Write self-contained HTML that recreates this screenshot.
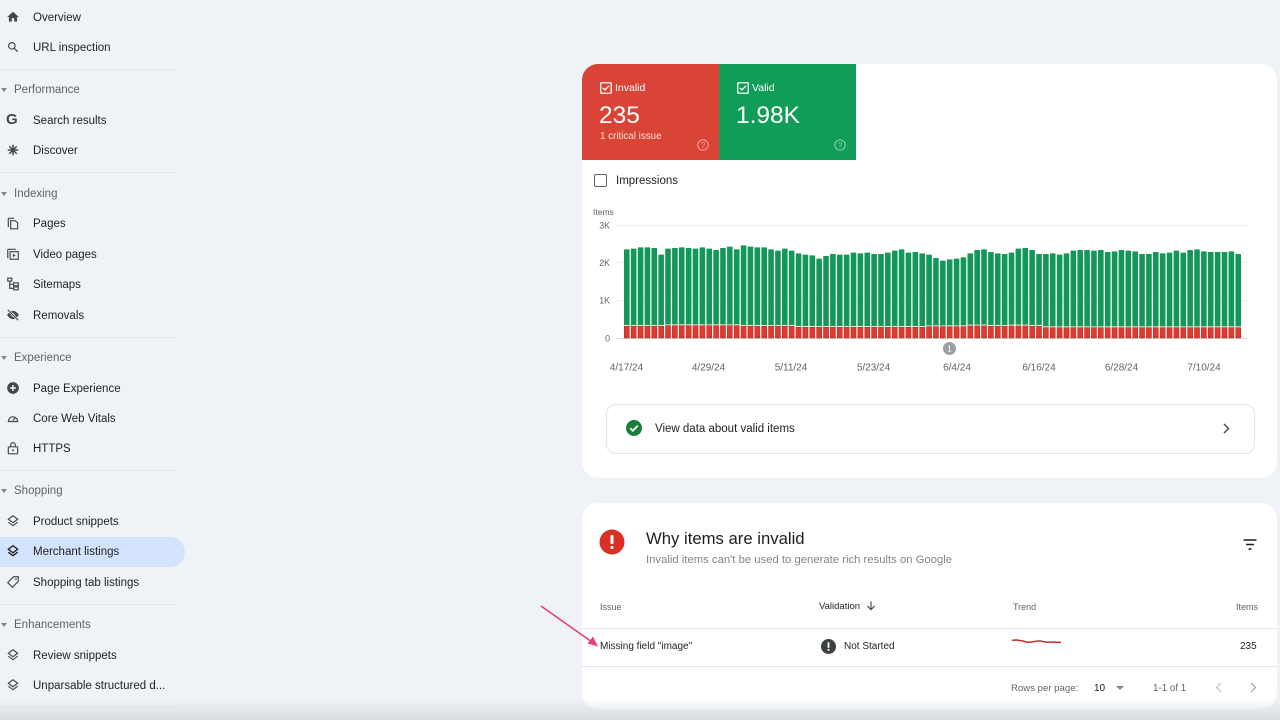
<!DOCTYPE html>
<html><head><meta charset="utf-8">
<style>
*{margin:0;padding:0;box-sizing:border-box}
html,body{width:1280px;height:720px;overflow:hidden}
body{background:#eff3f8;font-family:"Liberation Sans",Arial,sans-serif;position:relative;color:#1f1f1f}
.t{position:absolute;white-space:nowrap;line-height:18px}
.nav{font-size:11.5px;color:#1f1f1f;left:33px}
.sec{font-size:11.5px;color:#5f6368;left:14px}
.tri{position:absolute;left:1px;width:0;height:0;border-left:3px solid transparent;border-right:3px solid transparent;border-top:4px solid #80868b}
.div{position:absolute;left:0;width:176px;height:1px;background:#e1e6ec}
.ic{position:absolute;left:6px;width:14px;height:14px}
.card{position:absolute;background:#fff;border-radius:16px}
</style></head><body>

<!-- sidebar -->
<div style="position:absolute;left:0;top:537px;width:185px;height:30px;background:#d3e3fd;border-radius:0 15px 15px 0"></div>

<svg class="ic" style="top:10px" viewBox="0 0 24 24"><path fill="#474747" d="M10 20v-6h4v6h5v-8h3L12 3 2 12h3v8z"/></svg>
<div class="t nav" style="top:9px">Overview</div>
<svg class="ic" style="top:40px" viewBox="0 0 24 24"><circle cx="10" cy="10" r="5.5" fill="none" stroke="#474747" stroke-width="2"/><path d="M14 14l6 6" stroke="#474747" stroke-width="2.2"/></svg>
<div class="t nav" style="top:39px">URL inspection</div>
<div class="div" style="top:69px"></div>

<div class="tri" style="top:88px"></div>
<div class="t sec" style="top:81px">Performance</div>
<div class="t" style="left:6px;top:111px;font-size:15px;font-weight:bold;color:#474747;line-height:18px">G</div>
<div class="t nav" style="top:112px">Search results</div>
<svg class="ic" style="top:143px" viewBox="0 0 24 24"><g stroke="#474747" stroke-width="2.6"><path d="M12 3v18M3 12h18M5.6 5.6l12.8 12.8M18.4 5.6L5.6 18.4"/></g></svg>
<div class="t nav" style="top:142px">Discover</div>
<div class="div" style="top:172px"></div>

<div class="tri" style="top:192px"></div>
<div class="t sec" style="top:185px">Indexing</div>
<svg class="ic" style="top:216px" viewBox="0 0 24 24"><path d="M4 4v15M4 4h10" stroke="#474747" stroke-width="2" fill="none"/><path d="M8 8h8l4 4v10H8z" stroke="#474747" stroke-width="2" fill="none"/></svg>
<div class="t nav" style="top:215px">Pages</div>
<svg class="ic" style="top:247px" viewBox="0 0 24 24"><path d="M3 4v15M3 4h14" stroke="#474747" stroke-width="2" fill="none"/><rect x="7" y="8" width="14" height="13" stroke="#474747" stroke-width="2" fill="none"/><path d="M12 11.5v6l4.5-3z" fill="#474747"/></svg>
<div class="t nav" style="top:246px">Video pages</div>
<svg class="ic" style="top:277px" viewBox="0 0 24 24"><g stroke="#474747" stroke-width="2" fill="none"><rect x="3" y="2" width="7" height="5"/><rect x="13" y="10" width="8" height="5"/><rect x="13" y="17" width="8" height="5"/><path d="M6.5 7v12.5H13M6.5 12.5H13"/></g></svg>
<div class="t nav" style="top:276px">Sitemaps</div>
<svg class="ic" style="top:308px" viewBox="0 0 24 24"><path d="M2 12c3-5 7-7 10-7s7 2 10 7c-3 5-7 7-10 7s-7-2-10-7z" fill="#474747"/><circle cx="12" cy="12" r="3" fill="#eff3f8"/><path d="M3 3l18 18" stroke="#eff3f8" stroke-width="4"/><path d="M3 3l18 18" stroke="#474747" stroke-width="2"/></svg>
<div class="t nav" style="top:307px">Removals</div>
<div class="div" style="top:337px"></div>

<div class="tri" style="top:356px"></div>
<div class="t sec" style="top:349px">Experience</div>
<svg class="ic" style="top:381px" viewBox="0 0 24 24"><circle cx="12" cy="12" r="10" fill="#474747"/><path d="M12 7v10M7 12h10" stroke="#eff3f8" stroke-width="2.6"/></svg>
<div class="t nav" style="top:380px">Page Experience</div>
<svg class="ic" style="top:411px" viewBox="0 0 24 24"><path d="M4 18a8 8 0 1 1 16 0z" fill="none" stroke="#474747" stroke-width="2"/><path d="M12 16l4-5" stroke="#474747" stroke-width="2"/></svg>
<div class="t nav" style="top:410px">Core Web Vitals</div>
<svg class="ic" style="top:441px" viewBox="0 0 24 24"><rect x="4" y="10" width="16" height="12" rx="1" fill="none" stroke="#474747" stroke-width="2"/><path d="M8 10V7a4 4 0 0 1 8 0v3" fill="none" stroke="#474747" stroke-width="2"/><circle cx="12" cy="16" r="1.6" fill="#474747"/></svg>
<div class="t nav" style="top:440px">HTTPS</div>
<div class="div" style="top:470px"></div>

<div class="tri" style="top:489px"></div>
<div class="t sec" style="top:482px">Shopping</div>
<svg class="ic" style="top:514px" viewBox="0 0 24 24"><g fill="none" stroke="#474747" stroke-width="2"><path d="M12 3l8 6-8 6-8-6z"/><path d="M4 14l8 6 8-6"/></g></svg>
<div class="t nav" style="top:513px">Product snippets</div>
<svg class="ic" style="top:544px" viewBox="0 0 24 24"><g fill="none" stroke="#1f1f1f" stroke-width="2.3"><path d="M12 3l8 6-8 6-8-6z"/><path d="M4 14l8 6 8-6"/></g></svg>
<div class="t nav" style="top:543px">Merchant listings</div>
<svg class="ic" style="top:575px" viewBox="0 0 24 24"><path d="M13 3h8v8L11 21 3 13z" fill="none" stroke="#474747" stroke-width="2"/><circle cx="17" cy="7" r="1.4" fill="#474747"/></svg>
<div class="t nav" style="top:574px">Shopping tab listings</div>
<div class="div" style="top:604px"></div>

<div class="tri" style="top:623px"></div>
<div class="t sec" style="top:616px">Enhancements</div>
<svg class="ic" style="top:648px" viewBox="0 0 24 24"><g fill="none" stroke="#474747" stroke-width="2"><path d="M12 3l8 6-8 6-8-6z"/><path d="M4 14l8 6 8-6"/></g></svg>
<div class="t nav" style="top:647px">Review snippets</div>
<svg class="ic" style="top:678px" viewBox="0 0 24 24"><g fill="none" stroke="#474747" stroke-width="2"><path d="M12 3l8 6-8 6-8-6z"/><path d="M4 14l8 6 8-6"/></g></svg>
<div class="t nav" style="top:677px">Unparsable structured d...</div>
<div class="div" style="top:707px"></div>

<!-- card 1 -->
<div class="card" style="left:582px;top:64px;width:695px;height:414px"></div>
<div style="position:absolute;left:582px;top:64px;width:137px;height:96px;background:#da4437;border-top-left-radius:16px"></div>
<div style="position:absolute;left:719px;top:64px;width:137px;height:96px;background:#0f9d58"></div>

<svg style="position:absolute;left:600px;top:82px" width="12" height="12" viewBox="0 0 12 12"><rect x="0.75" y="0.75" width="10.5" height="10.5" rx="1" fill="none" stroke="#fff" stroke-width="1.3"/><path d="M3 6l2 2 4-4.2" fill="none" stroke="#fff" stroke-width="1.3"/></svg>
<div class="t" style="left:615px;top:79px;font-size:10.5px;color:#fff">Invalid</div>
<div class="t" style="left:599px;top:102px;font-size:24.5px;line-height:28px;color:#fff">235</div>
<div class="t" style="left:600px;top:128px;font-size:9.8px;color:#fde0dc">1 critical issue</div>
<svg style="position:absolute;left:697px;top:139px" width="12" height="12" viewBox="0 0 12 12"><circle cx="6" cy="6" r="5.2" fill="none" stroke="#f4a69f" stroke-width="1"/><text x="6" y="8.8" font-size="8" text-anchor="middle" fill="#f4a69f" font-family="Liberation Sans">?</text></svg>

<svg style="position:absolute;left:737px;top:82px" width="12" height="12" viewBox="0 0 12 12"><rect x="0.75" y="0.75" width="10.5" height="10.5" rx="1" fill="none" stroke="#fff" stroke-width="1.3"/><path d="M3 6l2 2 4-4.2" fill="none" stroke="#fff" stroke-width="1.3"/></svg>
<div class="t" style="left:752px;top:79px;font-size:10.5px;color:#fff">Valid</div>
<div class="t" style="left:736px;top:102px;font-size:24.5px;line-height:28px;color:#fff">1.98K</div>
<svg style="position:absolute;left:834px;top:139px" width="12" height="12" viewBox="0 0 12 12"><circle cx="6" cy="6" r="5.2" fill="none" stroke="#8fd3b0" stroke-width="1"/><text x="6" y="8.8" font-size="8" text-anchor="middle" fill="#8fd3b0" font-family="Liberation Sans">?</text></svg>

<div style="position:absolute;left:594px;top:174px;width:13px;height:13px;border:1.5px solid #5f6368;border-radius:2px"></div>
<div class="t" style="left:616px;top:172px;font-size:11.5px;color:#1f1f1f">Impressions</div>

<svg style="position:absolute;left:0;top:0" width="1280" height="720" id="chart">
  <text x="593" y="215" font-size="8.5" fill="#5f6368" font-family="Liberation Sans">Items</text>
  <g stroke="#eceef1" stroke-width="1">
    <line x1="616" y1="225.5" x2="1248" y2="225.5"/>
    <line x1="616" y1="262.5" x2="1248" y2="262.5"/>
    <line x1="616" y1="300.5" x2="1248" y2="300.5"/>
  </g>
  <line x1="616" y1="338.5" x2="1248" y2="338.5" stroke="#dadce0"/>
  <g font-size="8.8" fill="#5f6368" font-family="Liberation Sans" text-anchor="end">
    <text x="610" y="228.5">3K</text>
    <text x="610" y="266">2K</text>
    <text x="610" y="303.5">1K</text>
    <text x="610" y="341.5">0</text>
  </g>
  <g id="bars"></g>
  <circle cx="949.5" cy="348.5" r="6.5" fill="#9aa0a6"/>
  <text x="949.5" y="351.5" font-size="8" fill="#fff" text-anchor="middle" font-family="Liberation Sans">1</text>
  <g font-size="10" fill="#5f6368" font-family="Liberation Sans" text-anchor="middle">
    <text x="626.5" y="370.5">4/17/24</text>
    <text x="708.5" y="370.5">4/29/24</text>
    <text x="791" y="370.5">5/11/24</text>
    <text x="873.5" y="370.5">5/23/24</text>
    <text x="957" y="370.5">6/4/24</text>
    <text x="1039" y="370.5">6/16/24</text>
    <text x="1121.5" y="370.5">6/28/24</text>
    <text x="1204" y="370.5">7/10/24</text>
  </g>
</svg>

<div style="position:absolute;left:606px;top:404px;width:649px;height:50px;border:1px solid #e3e5e8;border-radius:10px"></div>
<svg style="position:absolute;left:626px;top:420px" width="16" height="16" viewBox="0 0 16 16"><circle cx="8" cy="8" r="8" fill="#188038"/><path d="M4.3 8.2l2.5 2.5 5-5" fill="none" stroke="#fff" stroke-width="1.8"/></svg>
<div class="t" style="left:655px;top:420px;font-size:11.5px;color:#1f1f1f">View data about valid items</div>
<svg style="position:absolute;left:1222px;top:423px" width="8" height="11" viewBox="0 0 8 11"><path d="M2 1l4.5 4.5L2 10" fill="none" stroke="#444746" stroke-width="1.4"/></svg>

<!-- card 2 -->
<div class="card" style="left:582px;top:503px;width:695px;height:206px"></div>
<svg style="position:absolute;left:599px;top:529px" width="26" height="26" viewBox="0 0 26 26"><circle cx="13" cy="13" r="12.5" fill="#d93025"/><rect x="11.5" y="6" width="3" height="9" rx="1" fill="#fff"/><rect x="11.5" y="17" width="3" height="3" rx="1" fill="#fff"/></svg>
<div class="t" style="left:646px;top:528px;font-size:16.7px;line-height:22px;color:#1f1f1f">Why items are invalid</div>
<div class="t" style="left:646px;top:551px;font-size:11.3px;color:#80868b">Invalid items can't be used to generate rich results on Google</div>
<svg style="position:absolute;left:1243px;top:539px" width="14" height="11" viewBox="0 0 14 11"><path d="M0.5 1h13M3 5.5h8M5.5 10h3" stroke="#1f1f1f" stroke-width="1.4"/></svg>

<div class="t" style="left:600px;top:598px;font-size:9px;color:#5f6368">Issue</div>
<div class="t" style="left:819px;top:598px;font-size:9.5px;color:#1f1f1f">Validation</div>
<svg style="position:absolute;left:866px;top:601px" width="10" height="10" viewBox="0 0 10 10"><path d="M5 0.5v8M1.5 5l3.5 3.7L8.5 5" fill="none" stroke="#3c4043" stroke-width="1.1"/></svg>
<div class="t" style="left:1013px;top:598px;font-size:9px;color:#5f6368">Trend</div>
<div class="t" style="left:1236px;top:598px;font-size:9px;color:#5f6368">Items</div>
<div style="position:absolute;left:582px;top:628px;width:695px;height:1px;background:#e3e5e8"></div>
<div class="t" style="left:600px;top:638px;font-size:10px;color:#1f1f1f">Missing field "image"</div>
<svg style="position:absolute;left:821px;top:639px" width="15" height="15" viewBox="0 0 15 15"><circle cx="7.5" cy="7.5" r="7.5" fill="#3c4043"/><rect x="6.6" y="3.3" width="1.8" height="5.5" fill="#fff"/><rect x="6.6" y="10" width="1.8" height="1.8" fill="#fff"/></svg>
<div class="t" style="left:844px;top:638px;font-size:10px;color:#1f1f1f">Not Started</div>
<svg style="position:absolute;left:0;top:0" width="1280" height="720">
  <polyline points="1012,640.3 1016,640 1020,640.4 1024,641.3 1027,642.2 1032,642 1036,641.2 1040,640.8 1043,641.6 1047,642.2 1054,642.1 1061,642.4" fill="none" stroke="#c5221f" stroke-width="1.4"/>
  <line x1="541" y1="606" x2="592" y2="642" stroke="#e8407a" stroke-width="1.6"/>
  <path d="M598 646.5 L587.5 643.5 L593 636.5 z" fill="#e8407a"/>
</svg>
<div class="t" style="left:1240px;top:638px;font-size:10px;color:#1f1f1f">235</div>
<div style="position:absolute;left:582px;top:666px;width:695px;height:1px;background:#e3e5e8"></div>
<div class="t" style="left:1011px;top:680px;font-size:9.6px;color:#5f6368">Rows per page:</div>
<div class="t" style="left:1094px;top:680px;font-size:10px;color:#1f1f1f">10</div>
<div style="position:absolute;left:1116px;top:686px;width:0;height:0;border-left:4.5px solid transparent;border-right:4.5px solid transparent;border-top:4.5px solid #80868b"></div>
<div class="t" style="left:1153px;top:680px;font-size:9.8px;color:#5f6368">1-1 of 1</div>
<svg style="position:absolute;left:1215px;top:682px" width="8" height="11" viewBox="0 0 8 11"><path d="M6 1L1.5 5.5 6 10" fill="none" stroke="#bdc1c6" stroke-width="1.2"/></svg>
<svg style="position:absolute;left:1249px;top:682px" width="8" height="11" viewBox="0 0 8 11"><path d="M2 1l4.5 4.5L2 10" fill="none" stroke="#9aa0a6" stroke-width="1.2"/></svg>

<div style="position:absolute;left:0;top:699px;width:1280px;height:21px;background:linear-gradient(rgba(220,223,227,0),rgba(218,221,225,1))"></div>

<script>
(function(){
var tops=[148,146,142,142,144,164,146,144,142,144,146,142,146,150,144,140,148,136,140,142,142,148,152,146,152,160,164,166,176,168,162,164,164,158,160,158,162,162,158,152,148,158,156,160,164,174,182,178,176,172,160,150,148,156,160,162,158,146,144,150,162,162,160,164,160,152,150,150,152,150,156,154,150,152,154,162,162,156,160,158,152,158,150,148,154,156,156,156,154,162];
var g=document.getElementById('bars');var out='';
for(var i=0;i<tops.length;i++){
  var n=i+1;var rz=378;
  if(n>=7&&n<=17)rz=376;else if(n>=26&&n<=44)rz=381;else if(n>=45&&n<=50)rz=379;else if(n>=51&&n<=53)rz=377;else if(n>=57&&n<=59)rz=377;else if(n>=62)rz=382;
  var x=624+i*6.87, w=5.6, ty=200+tops[i]/3, ry=200+rz/3;
  out+='<rect x="'+x.toFixed(2)+'" y="'+ty.toFixed(2)+'" width="'+w+'" height="'+(ry-0.9-ty).toFixed(2)+'" fill="#14985a" rx="0.6"/>';
  out+='<rect x="'+x.toFixed(2)+'" y="'+(ry-0.9).toFixed(2)+'" width="'+w+'" height="0.9" fill="#e6f2d8"/>';
  out+='<rect x="'+(x+0.25).toFixed(2)+'" y="'+(ry+0.25).toFixed(2)+'" width="'+(w-0.5)+'" height="'+(338-ry-0.25).toFixed(2)+'" fill="#e0392e" stroke="#b3261e" stroke-width="0.5"/>';
}
g.innerHTML=out;
})();
</script>
</body></html>
